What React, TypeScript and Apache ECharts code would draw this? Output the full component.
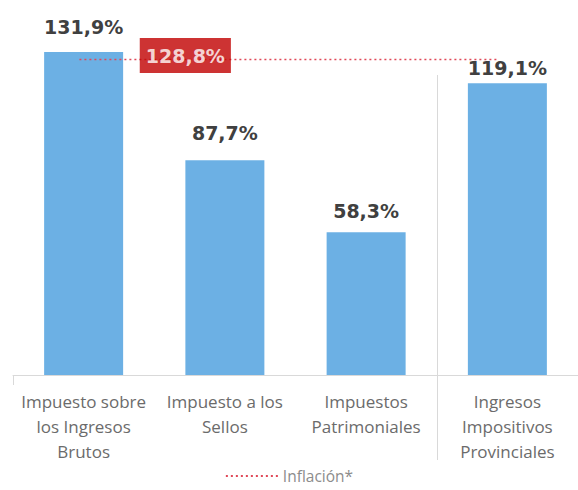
import React, { useEffect, useRef } from "react";
import * as echarts from "echarts";

const categories = [
  "Impuesto sobre\nlos Ingresos\nBrutos",
  "Impuesto a los\nSellos",
  "Impuestos\nPatrimoniales",
  "Ingresos\nImpositivos\nProvinciales",
];
const values = [131.9, 87.7, 58.3, 119.1];
const inflation = 128.8;
const inflationName = "Inflación*";
const inflationSpan = [-0.03, 2.93];
const inflationLabelX = 0.72;

const fmt = (v: number) => v.toFixed(1).replace(".", ",") + "%";

export default function App() {
  const ref = useRef<HTMLDivElement>(null);
  useEffect(() => {
    const chart = echarts.init(ref.current!, null, { renderer: "svg" });
    const labelDist = [15, 18, 12, 6];
    chart.setOption({
      animation: false,
      grid: { left: 13, right: -7, top: 7.6, bottom: 115 },
      legend: {
        top: 466,
        left: "center",
        itemWidth: 52,
        itemHeight: 10,
        itemGap: 6,
        padding: [2, 5, 2, 5],
        itemStyle: { opacity: 0 },
        textStyle: { color: "#8c8c8c", fontSize: 15.5, fontFamily: "Open Sans" },
        data: [inflationName],
      },
      xAxis: [
        {
          type: "category",
          data: categories,
          axisLine: { lineStyle: { color: "#d9d9d9", width: 1 } },
          axisTick: {
            show: true,
            length: 10,
            interval: (i: number) => i === 0,
            lineStyle: { color: "#d9d9d9" },
          },
          axisLabel: {
            color: "#6b6b6b",
            fontSize: 17,
            lineHeight: 25,
            fontFamily: "Open Sans",
            margin: 14,
            interval: 0,
          },
        },
        { type: "value", min: -0.5, max: 3.5, show: false },
      ],
      yAxis: { type: "value", min: 0, max: 150, show: false, splitLine: { show: false } },
      series: [
        {
          type: "bar",
          data: values.map((v, i) => ({ value: v, label: { distance: labelDist[i] } })),
          barWidth: 79,
          itemStyle: { color: "#6cb0e4" },
          label: {
            show: true,
            position: "top",
            formatter: (p: any) => fmt(p.value),
            color: "#404040",
            fontWeight: "bold",
            fontSize: 19,
            fontFamily: "DejaVu Sans",
          },
          z: 2,
        },
        {
          type: "line",
          name: inflationName,
          xAxisIndex: 1,
          symbol: "none",
          data: inflationSpan.map((x) => [x, inflation]),
          lineStyle: { color: "#e04858", type: [2, 3], width: 1.5 },
          itemStyle: { color: "#e04858" },
          z: 5,
        },
        {
          type: "scatter",
          name: "inflationLabel",
          xAxisIndex: 1,
          symbolSize: 1,
          itemStyle: { color: "rgba(0,0,0,0)" },
          data: [[inflationLabelX, inflation]],
          label: {
            show: true,
            position: "inside",
            offset: [0, -4],
            formatter: fmt(inflation),
            backgroundColor: "#c00000",
            color: "#ffffff",
            fontWeight: "bold",
            fontSize: 19,
            fontFamily: "DejaVu Sans",
            padding: [8, 6, 8, 6],
          },
          z: 10,
        },
      ],
    });
    const sepX = chart.convertToPixel({ xAxisIndex: 0 }, 2) as number;
    const step = (chart.convertToPixel({ xAxisIndex: 0 }, 3) as number) - sepX;
    const x = Math.round(sepX + step / 2) + 0.5;
    chart.setOption({
      graphic: [
        {
          type: "line",
          shape: { x1: x, y1: 75, x2: x, y2: 460 },
          style: { stroke: "#d9d9d9", lineWidth: 1 },
        },
      ],
    });
    return () => chart.dispose();
  }, []);
  return (
    <div
      ref={ref}
      style={{ position: "fixed", left: 0, top: 0, width: 578, height: 490, background: "#fff" }}
    />
  );
}
